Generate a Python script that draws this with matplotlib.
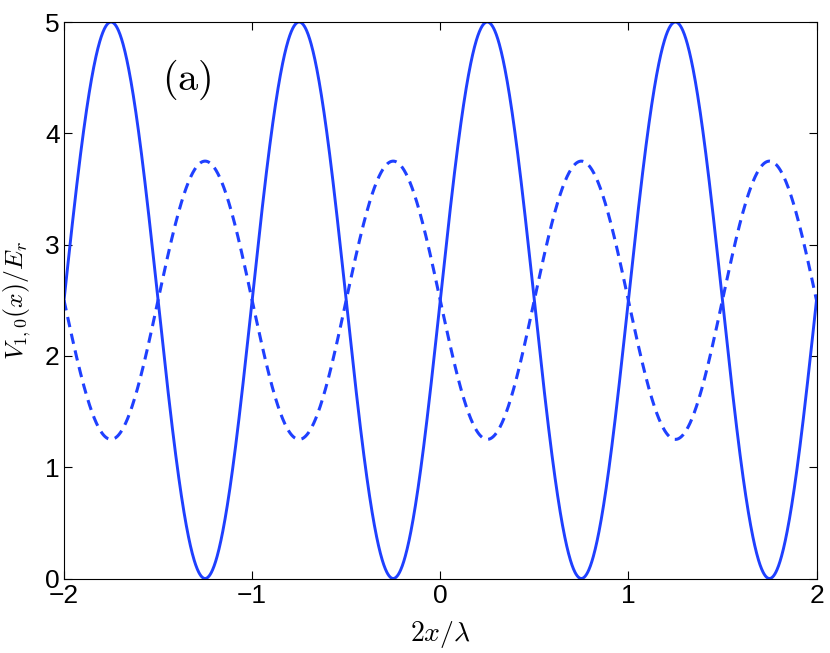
import numpy as np
import matplotlib.pyplot as plt

plt.rcParams['mathtext.fontset'] = 'cm'
plt.rcParams['font.family'] = ['Liberation Sans', 'DejaVu Sans']

# values
x_range = [-2, 2]
period = 1.0
solid_max, solid_min = 5.0, 0.0
dashed_max, dashed_min = 3.75, 1.25
xticks = [-2, -1, 0, 1, 2]
yticks = [0, 1, 2, 3, 4, 5]

x = np.linspace(x_range[0], x_range[1], 2001)
s = np.sin(2 * np.pi * x / period)
solid = (solid_max + solid_min) / 2 + (solid_max - solid_min) / 2 * s
dashed = (dashed_max + dashed_min) / 2 - (dashed_max - dashed_min) / 2 * s

fig = plt.figure(figsize=(8.3, 6.53), dpi=100)
ax = fig.add_axes([64 / 830, 1 - 578.5 / 653, (816.5 - 64) / 830, (578.5 - 22) / 653])

col = '#1f40ff'
ax.plot(x, solid, '-', color=col, lw=2.1)
ax.plot(x, dashed, '--', color=col, lw=2.2, dashes=(3.4, 2.2))

ax.set_xlim(x_range)
ax.set_ylim(0, 5)
ax.set_xticks(xticks)
ax.set_yticks(yticks)
ax.set_xticklabels(['\u22122', '\u22121', '0', '1', '2'])
ax.tick_params(direction='in', top=True, right=True, labelsize=19, length=6, width=0.8, pad=4)
ax.tick_params(axis='y', pad=3)
for sp in ax.spines.values():
    sp.set_linewidth(0.8)

ax.set_xlabel(r'$2x/\lambda$', fontsize=20)
ax.xaxis.set_label_coords(0.5, -0.072)
ax.set_ylabel(r'$V_{1,0}(x)/E_r$', fontsize=18.5)
ax.yaxis.set_label_coords(-0.041, 0.5)
ax.text(-1.346, 4.48, r'$\mathrm{(a)}$', fontsize=29, ha='center', va='center')

fig.savefig('out.png', dpi=100)
